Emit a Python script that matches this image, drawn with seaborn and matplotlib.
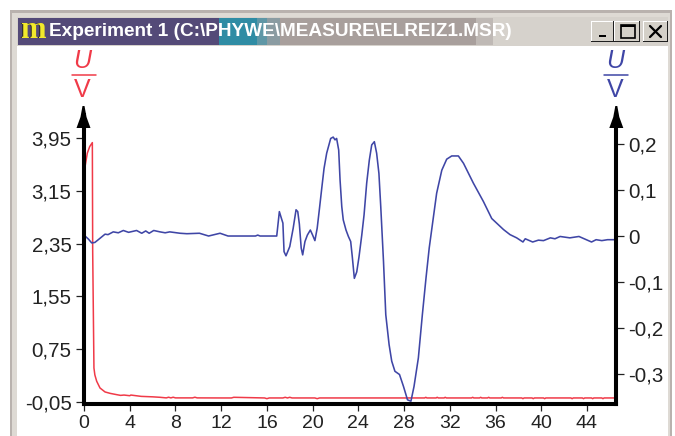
import pandas as pd
import matplotlib.pyplot as plt
from matplotlib.patches import Rectangle, Polygon
import seaborn as sns

# red trace, left axis
red_t = [0.09, 0.29, 0.5, 0.73, 0.76, 0.87, 0.95, 1.11, 1.4, 1.84, 2.3, 2.86, 3.2, 3.5, 4.0, 4.1, 5.0, 6.0, 6.65, 7.2, 7.4,
         7.6, 7.8, 8.0, 9.5, 9.7, 9.9, 12.0, 12.9, 13.1, 15.8, 16.0, 16.2, 17.4, 17.6, 17.8, 18.0, 18.2, 18.4, 20.2, 20.4, 20.6,
         24.0, 29.8, 29.9, 30.0, 30.8, 30.9, 31.0, 31.5, 31.6, 31.7, 33.9, 34.0, 34.1, 34.6, 34.7, 34.8, 35.3, 35.4, 35.5, 36.5,
         36.6, 36.7, 38.3, 38.4, 38.5, 39.2, 39.3, 39.4, 40.2, 40.3, 40.4, 42.6, 42.7, 42.8, 43.6, 43.7, 43.8, 44.4, 44.5, 44.6,
         45.3, 45.4, 45.5, 46.4]
red_v = [3.515, 3.72, 3.82, 3.88, 2.23, 0.465, 0.36, 0.264, 0.162, 0.102, 0.08, 0.061, 0.05, 0.055, 0.045, 0.055, 0.035,
         0.028, 0.021, 0.012, 0.022, 0.012, 0.022, 0.012, 0.012, 0.022, 0.012, 0.011, 0.011, 0.021, 0.011, 0.0, 0.011, 0.011,
         0.021, 0.011, 0.021, 0.011, 0.011, 0.011, 0.0, 0.011, 0.011, 0.011, 0.021, 0.011, 0.011, 0.021, 0.011, 0.011, 0.021,
         0.011, 0.011, 0.021, 0.011, 0.011, 0.021, 0.011, 0.011, 0.021, 0.011, 0.011, 0.021, 0.011, 0.011, 0.0, 0.011, 0.011,
         0.0, 0.011, 0.011, 0.0, 0.011, 0.011, 0.0, 0.011, 0.011, 0.0, 0.011, 0.011, 0.0, 0.011, 0.011, 0.0, 0.011, 0.011]

# blue trace, right axis
blue_t = [0.09, 0.4, 0.67, 0.95, 1.25, 1.84, 2.1, 2.56, 3.0, 3.44, 3.9, 4.6, 5.05, 5.4, 5.7, 6.1, 6.65, 7.1, 7.5, 8.4, 9.0,
          10.1, 10.9, 11.4, 11.9, 12.6, 15.0, 15.2, 15.4, 16.86, 17.09, 17.25, 17.4, 17.5, 17.67, 18.0, 18.3, 18.55, 18.7, 18.84,
          19.0, 19.13, 19.33, 19.54, 19.8, 20.0, 20.2, 20.4, 20.6, 20.8, 21.0, 21.23, 21.58, 21.8, 21.96, 22.1, 22.28, 22.4,
          22.55, 22.68, 22.92, 23.13, 23.33, 23.47, 23.65, 23.86, 24.06, 24.3, 24.5, 24.73, 24.96, 25.17, 25.4, 25.6, 25.8,
          25.96, 26.2, 26.4, 26.69, 26.92, 27.2, 27.6, 27.95, 28.3, 28.6, 28.87, 29.25, 29.6, 29.92, 30.2, 30.56, 30.85, 31.3,
          31.73, 32.17, 32.75, 33.2, 34.06, 34.94, 35.67, 36.7, 37.27, 37.85, 38.4, 38.6, 39.25, 39.75, 40.2, 40.8, 41.2, 41.65,
          42.5, 43.3, 44.4, 44.8, 45.3, 45.8, 46.45]
blue_v = [0.0, -0.007, -0.015, -0.014, -0.008, 0.004, 0.003, 0.009, 0.007, 0.012, 0.008, 0.012, 0.006, 0.011, 0.006, 0.012,
          0.009, 0.007, 0.009, 0.006, 0.005, 0.006, 0.0, 0.003, 0.006, 0.0, 0.0, 0.002, 0.0, 0.0, 0.053, 0.04, 0.028, -0.034,
          -0.043, -0.023, 0.017, 0.057, 0.053, 0.026, -0.026, -0.041, -0.012, 0.002, 0.013, 0.002, -0.01, 0.017, 0.06, 0.104,
          0.147, 0.18, 0.212, 0.215, 0.209, 0.212, 0.187, 0.122, 0.064, 0.035, 0.013, -0.001, -0.012, -0.045, -0.092, -0.078,
          -0.045, 0.002, 0.046, 0.115, 0.165, 0.198, 0.205, 0.18, 0.136, 0.064, -0.055, -0.171, -0.236, -0.272, -0.294, -0.301,
          -0.327, -0.356, -0.359, -0.327, -0.265, -0.171, -0.091, -0.026, 0.04, 0.093, 0.143, 0.167, 0.174, 0.174, 0.158,
          0.115, 0.075, 0.038, 0.014, 0.003, -0.004, -0.013, -0.006, -0.013, -0.009, -0.01, -0.004, -0.006, -0.001, -0.004,
          -0.001, -0.013, -0.008, -0.01, -0.008, -0.008]

x_ticks = [0, 4, 8, 12, 16, 20, 24, 28, 32, 36, 40, 44]
left_ticks = [-0.05, 0.75, 1.55, 2.35, 3.15, 3.95]
left_labels = ['-0,05', '0,75', '1,55', '2,35', '3,15', '3,95']
right_ticks = [-0.3, -0.2, -0.1, 0, 0.1, 0.2]
right_labels = ['-0,3', '-0,2', '-0,1', '0', '0,1', '0,2']
title = 'Experiment 1 (C:\\PHYWE\\MEASURE\\ELREIZ1.MSR)'

RED = '#f03a48'
BLUE = '#3f46a6'
W, H = 675, 436

sns.set_theme(style='ticks')
plt.rcParams['font.family'] = ['Liberation Sans', 'DejaVu Sans']

fig = plt.figure(figsize=(W / 100, H / 100), dpi=100, facecolor='white')


def box(a, x0, y0, x1, y1, color, **kw):
    a.add_patch(Rectangle((x0, y0), x1 - x0, y1 - y0, facecolor=color, edgecolor='none', **kw))


# window frame and title bar, in pixels
chrome = fig.add_axes([0, 0, 1, 1])
chrome.set_xlim(0, W)
chrome.set_ylim(H, 0)
chrome.axis('off')
box(chrome, 10, 10, 672, H, '#b9b2ae')
box(chrome, 12, 13, 670, H, '#dedad4')
box(chrome, 17, 17, 668, H, '#d6d2cc')
box(chrome, 17, 46, 668, H, 'white')
box(chrome, 18, 18, 219, 45, '#544a78')
box(chrome, 219, 18, 257, 45, '#2f8ca4')
box(chrome, 257, 18, 267, 45, '#5f97a6')
box(chrome, 267, 18, 280, 45, '#8b9ca2')
box(chrome, 280, 18, 476, 45, '#a89f9c')
box(chrome, 476, 18, 493, 45, '#bfb9b5')

chrome.text(32, 30.5, 'm', color='#2a2a20', fontsize=22, fontweight='bold', family='Liberation Serif', ha='center', va='center')
chrome.text(32.5, 30, 'm', color='#f2e92c', fontsize=22, fontweight='bold', family='Liberation Serif', ha='center', va='center')
chrome.text(49, 31.5, title, color='white', fontsize=13.7, fontweight='bold', ha='left', va='center')

for x0, x1 in [(591, 614), (614, 640), (643, 668)]:
    box(chrome, x0, 21, x1, 42, '#202020')
    box(chrome, x0, 21, x1 - 1, 41, 'white')
    box(chrome, x0 + 1, 22, x1 - 1, 41, '#d4d0c8')
box(chrome, 599, 35, 606, 37, 'black')
chrome.add_patch(Rectangle((621, 25), 14, 13, facecolor='none', edgecolor='black', lw=1.2))
box(chrome, 621, 25, 635, 27, 'black')
chrome.plot([650, 661], [26, 37], color='black', lw=1.6)
chrome.plot([650, 661], [37, 26], color='black', lw=1.6)

# plot area runs 84..616 px across and 403.5..115 px down
ax = fig.add_axes([84 / W, 1 - 403.5 / H, 532 / W, 288.5 / H], facecolor='none')
ax2 = ax.twinx()

sns.lineplot(data=pd.DataFrame({'t': red_t, 'U': red_v}), x='t', y='U', ax=ax, color=RED, lw=1.1,
             estimator=None, sort=False, clip_on=False)
sns.lineplot(data=pd.DataFrame({'t': blue_t, 'U': blue_v}), x='t', y='U', ax=ax2, color=BLUE, lw=1.15,
             estimator=None, sort=False, clip_on=False)

ax.set_xlim(0, 46.54)
ax.set_ylim(-0.073, 4.298)
ax2.set_ylim(-0.364, 0.263)
ax.set_xlabel('')
ax.set_ylabel('')
ax2.set_ylabel('')

ax.set_xticks(x_ticks)
ax.set_xticklabels([str(t) for t in x_ticks])
ax.set_yticks(left_ticks)
ax.set_yticklabels(left_labels)
ax2.set_yticks(right_ticks)
ax2.set_yticklabels(right_labels)

ax.tick_params(axis='x', direction='out', length=5, width=0.9, color='#222222', labelcolor='#222222', labelsize=14, pad=3)
ax.tick_params(axis='y', direction='out', length=6, width=0.9, color='#222222', labelcolor='#222222', labelsize=14.8, pad=3)
ax2.tick_params(axis='y', direction='out', length=6, width=0.9, color='#222222', labelcolor='#222222', labelsize=14.8, pad=3)

for a in (ax, ax2):
    a.spines['top'].set_visible(False)
    for side in ('left', 'right', 'bottom'):
        a.spines[side].set_linewidth(2.9)
        a.spines[side].set_color('black')

# arrow heads and unit fractions on top of the axes
top = fig.add_axes([0, 0, 1, 1], facecolor='none')
top.set_xlim(0, W)
top.set_ylim(H, 0)
top.axis('off')
for cx, col in [(83.5, RED), (616.3, BLUE)]:
    top.add_patch(Polygon([(cx - 1, 106), (cx + 1, 106), (cx + 3, 117), (cx + 7, 128), (cx - 7, 128), (cx - 3, 117)],
                          closed=True, facecolor='black', edgecolor='none'))
    top.text(cx - 1, 60.5, 'U', color=col, fontsize=18, style='italic', ha='center', va='center')
    top.plot([cx - 12, cx + 12], [75, 75], color=col, lw=1.1)
    top.text(cx - 1, 90, 'V', color=col, fontsize=18, ha='center', va='center')

fig.savefig('out.png', dpi=100)
